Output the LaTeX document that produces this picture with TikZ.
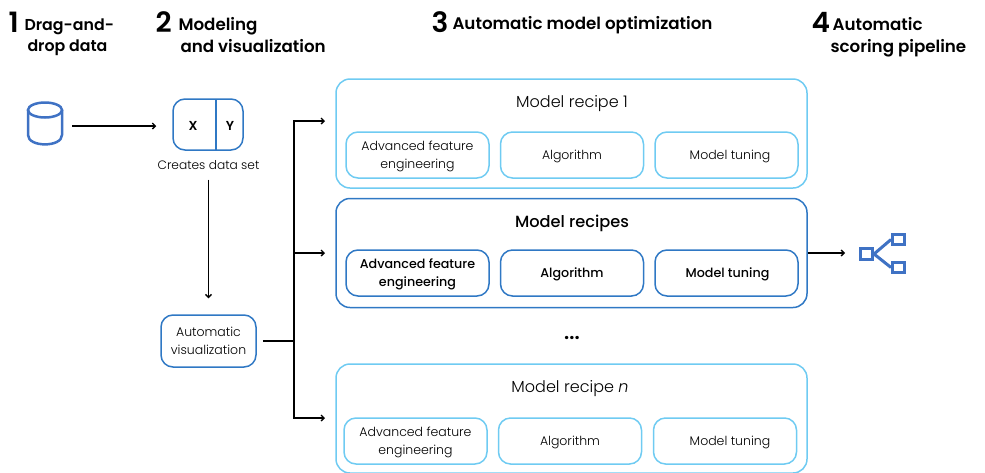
\documentclass[tikz,border=0pt]{standalone}
\usepackage{fontspec}
\setmainfont{Poppins}[UprightFont=* Light,BoldFont=* SemiBold,ItalicFont=* Light Italic]
\newfontfamily\medfont{Poppins Medium}
\usetikzlibrary{arrows.meta}
\definecolor{darkblue}{HTML}{2F78C4}
\definecolor{lightblue}{HTML}{6FCBF2}
\definecolor{iconblue}{HTML}{3F72C4}
\newcommand{\firstline}{\rule{0pt}{13pt}}
\tikzset{
  headline/.style={align=left,anchor=west,font=\bfseries\fontsize{16.7}{22}\selectfont},
  headnum/.style={anchor=west,font=\bfseries\fontsize{28}{28}\selectfont},
  note/.style={align=center,font=\fontsize{12.5}{18}\selectfont},
  outerlight/.style={draw=lightblue,line width=1.5pt,rounded corners=14pt,minimum width=471pt,minimum height=109pt},
  outerdark/.style={outerlight,draw=darkblue},
  innerlight/.style={draw=lightblue,line width=1.5pt,rounded corners=12pt,minimum width=143pt,minimum height=46pt,
    align=center,inner sep=0pt,font=\fontsize{12.5}{18}\selectfont,execute at begin node={\rule{0pt}{12.5pt}}},
  innerdark/.style={innerlight,draw=darkblue,font=\medfont\fontsize{12.7}{18}\selectfont},
  toplabel/.style={font=\fontsize{16}{20}\selectfont},
  iconbox/.style={draw=iconblue,line width=3pt,minimum width=12pt,minimum height=10.5pt,inner sep=0pt},
  flow/.style={black,line width=1.3pt},
  flowtip/.style={flow,-{Straight Barb[length=3pt,width=6pt]}},
}
\begin{document}
\begin{tikzpicture}[x=1pt,y=-1pt]
\useasboundingbox (0,0) rectangle (985,472);

\node [headnum] (numone) at (5,22) {1};
\node [headline,font=\bfseries\fontsize{15.8}{21}\selectfont] (headone) at (21,37.5) {Drag-and-\\\hspace*{3pt}drop data};
\node [headnum] (numtwo) at (152,22) {2};
\node [headline] (headtwo) at (175,35) {Modeling\\\hspace*{2pt}and visualization};
\node [headnum] (numthree) at (428,22) {3};
\node [headline] (headthree) at (449,25) {Automatic model optimization};
\node [headnum] (numfour) at (808,22) {4};
\node [headline] (headfour) at (827,37) {\hspace*{2pt}Automatic\\scoring pipeline};

% data cylinder
\node [minimum width=36pt,minimum height=38pt,inner sep=0pt] (dbase) at (45,126) {};
\draw [iconblue,line width=2.5pt] (45,110) ellipse (17pt and 7.5pt);
\draw [iconblue,line width=2.5pt] (28,110) -- (28,135) .. controls (28,147.5) and (62,147.5) .. (62,135) -- (62,110);

\node [draw=darkblue,line width=1.5pt,rounded corners=12pt,minimum width=70pt,minimum height=51pt] (xybox) at (208,124.5) {};
\draw [darkblue,line width=1.5pt] (216,99) -- (216,150);
\node [font=\bfseries\fontsize{13}{13}\selectfont] (xlabel) at (193,125.5) {X};
\node [font=\bfseries\fontsize{13}{13}\selectfont] (ylabel) at (230,125.5) {Y};
\node [note,font=\fontsize{12.2}{18}\selectfont] (created) at (208.5,165.5) {Creates data set};
\node [draw=darkblue,line width=1.5pt,rounded corners=12pt,minimum width=95pt,minimum height=52pt,inner sep=0pt,note] (autovis) at (208.5,341) {Automatic\\visualization};

\node [outerlight] (recipeone) at (571.5,133.5) {};
\node [toplabel] (titleone) at (572,104) {Model recipe 1};
\node [innerlight] (featone) at (417.5,155) {\firstline Advanced feature\\engineering};
\node [innerlight] (algoone) at (572,155) {Algorithm};
\node [innerlight] (tuneone) at (726.5,155) {\hspace*{7pt}Model tuning};

\node [outerdark] (recipes) at (571.5,253) {};
\node [toplabel,font=\medfont\fontsize{16.2}{20}\selectfont] (titles) at (572,223.5) {Model recipes};
\node [innerdark] (feats) at (417.5,273) {\firstline Advanced feature\\engineering};
\node [innerdark] (algos) at (572,273) {Algorithm};
\node [innerdark] (tunes) at (726.5,273) {\hspace*{2pt}Model tuning};

\node [font=\bfseries\fontsize{20}{20}\selectfont] (dots) at (572,338) {...};

\node [outerlight] (recipen) at (571.5,418.5) {};
\node [toplabel] (titlen) at (570,389) {Model recipe \textit{n}};
\node [innerlight] (featn) at (415.5,441) {\firstline Advanced feature\\engineering};
\node [innerlight] (algon) at (570,441) {Algorithm};
\node [innerlight] (tunen) at (725,441) {\hspace*{10pt}Model tuning};

\node [iconbox] (iconleft) at (866.5,254) {};
\node [iconbox] (icontop) at (898.5,239.5) {};
\node [iconbox] (iconbot) at (898.5,267.5) {};
\draw [iconblue,line width=3pt] (iconleft.east) -- (icontop.west);
\draw [iconblue,line width=3pt] (iconleft.east) -- (iconbot.west);

\coordinate (trunk) at (294,341);
\coordinate (trunktop) at (294,121);
\coordinate (trunkmid) at (294,253);
\coordinate (trunkbot) at (294,418);
\coordinate (tiptop) at (325,121);
\coordinate (tipmid) at (325,253);
\coordinate (tipbot) at (325,418);

\draw [flowtip,shorten <=9pt,shorten >=16pt] (dbase.east) -- (dbase.east -| xybox.west);
\draw [flowtip,shorten <=6pt,shorten >=16pt] (created.south) -- (autovis.north);
\draw [flow,shorten <=6pt] (autovis.east) -- (trunk);
\draw [flowtip] (trunk) -- (trunktop) -- (tiptop);
\draw [flowtip] (trunkmid) -- (tipmid);
\draw [flowtip] (trunk) -- (trunkbot) -- (tipbot);
\draw [flowtip,shorten >=14pt] (recipes.east) -- (recipes.east -| iconleft.west);
\end{tikzpicture}
\end{document}
